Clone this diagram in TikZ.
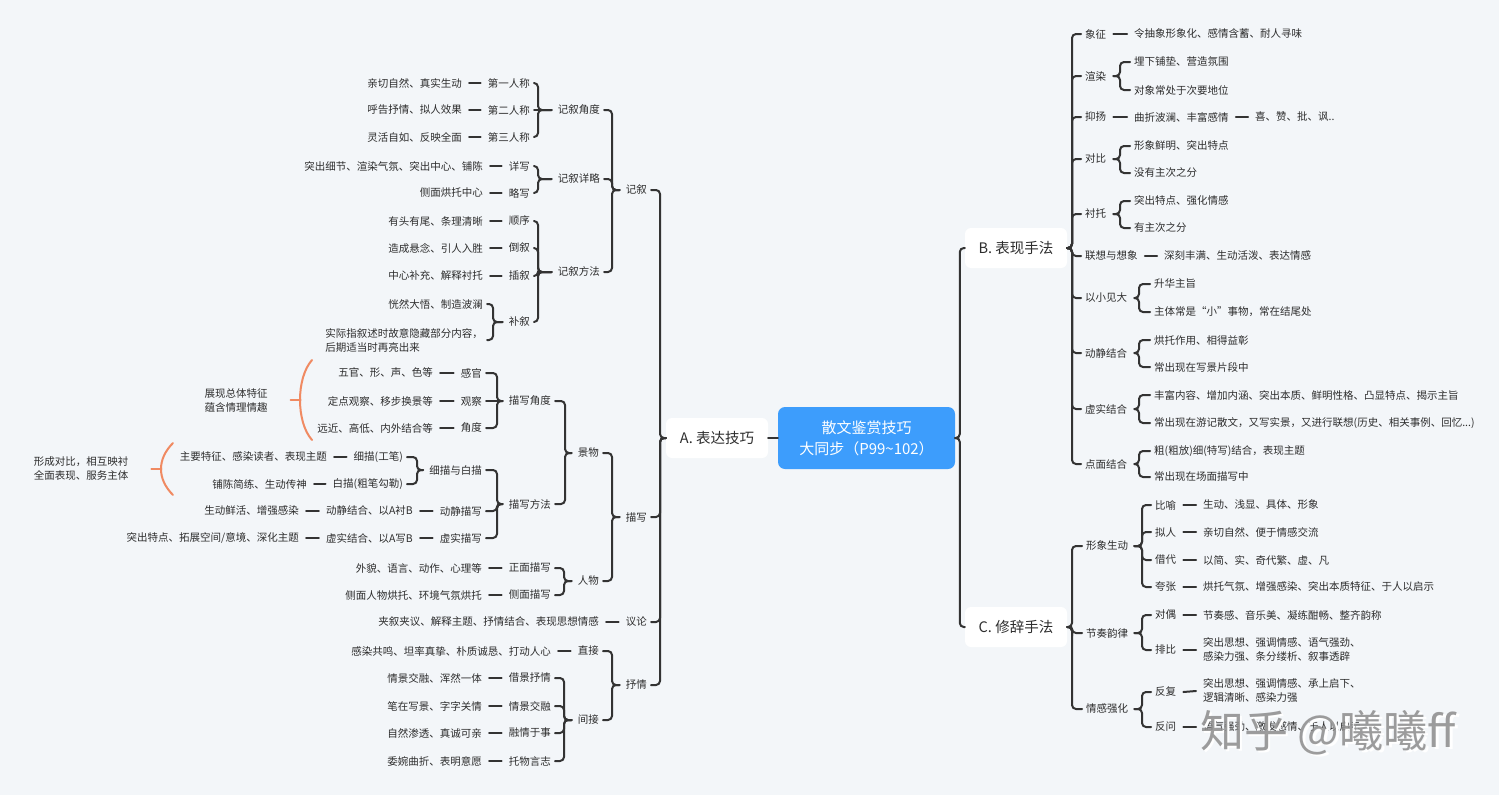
\documentclass[tikz,border=0pt]{standalone}
\usepackage{fontspec}
\setmainfont{Noto Sans CJK SC}
\definecolor{bg}{RGB}{243,246,249}
\definecolor{ink}{RGB}{51,51,51}
\definecolor{tx}{RGB}{45,45,45}
\definecolor{blu}{RGB}{61,157,252}
\definecolor{org}{RGB}{240,138,98}
\definecolor{wmc}{RGB}{140,140,140}
\tikzset{
  ln/.style={draw=ink, line width=2pt, rounded corners=4pt, line cap=round},
  orl/.style={draw=org, line width=2pt, line cap=round},
  t/.style={font=\fontsize{10.5}{14}\selectfont, text=tx, inner xsep=0pt, inner ysep=1pt},
  tl/.style={t, anchor=east},
  tr/.style={t, anchor=west},
  box/.style={fill=white, rounded corners=6pt, minimum width=102pt, minimum height=40pt, inner sep=0pt, text=tx, font=\fontsize{14.5}{16}\selectfont},
  wmk/.style={font=\fontsize{44}{44}\selectfont, inner sep=0pt}
}
\newcommand\mmLB[4]{\draw[ln] ([xshift=4pt]#1.east) -- ++(#3,0) |- ([xshift=-#4pt]#2.west);}
\newcommand\mmRB[4]{\draw[ln] ([xshift=-4pt]#1.west) -- ++(-#3,0) |- ([xshift=#4pt]#2.east);}
\newcommand\mmLS[2]{\draw[ln] ([xshift=4pt]#1.east) -- ([xshift=-6pt]#2.west);}
\newcommand\mmDL[2]{\draw[ln] ([xshift=7pt]#1.east) -- ([xshift=-7pt]#2.west);}
\begin{document}
\begin{tikzpicture}[x=1pt,y=-1pt]
\useasboundingbox (0,0) rectangle (1499,795);
\fill[bg] (0,0) rectangle (1499,795);

% ---------- centre ----------
\node[fill=blu, rounded corners=7pt, minimum width=177pt, minimum height=62pt, inner sep=0pt, text=white, font=\fontsize{15}{21}\selectfont, align=center] (root) at (866.5,438) {散文鉴赏技巧\\大同步（P99\textasciitilde102）};
\node[box] (A) at (717,438) {A. 表达技巧};
\node[box] (B) at (1016,248) {B. 表现手法};
\node[box] (C) at (1016,627) {C. 修辞手法};

% ---------- A side ----------
\node[tl] (jx) at (647,190) {记叙};
\node[tl] (mx) at (647,517) {描写};
\node[tl] (yl) at (647,622) {议论};
\node[tl] (sq) at (647,685) {抒情};

\node[tl] (jxjd) at (600,110) {记叙角度};
\node[tl] (jxxl) at (600,179) {记叙详略};
\node[tl] (jxff) at (600,272) {记叙方法};

\node[tl] (pa) at (530,83) {第一人称};
\node[tl] (pb2) at (530,110) {第二人称};
\node[tl] (pc) at (530,137) {第三人称};
\node[tl] (pan) at (462,83) {亲切自然、真实生动};
\node[tl] (pbn2) at (462,110) {呼告抒情、拟人效果};
\node[tl] (pcn) at (462,137) {灵活自如、反映全面};

\node[tl] (xiex) at (530,166) {详写};
\node[tl] (luex) at (530,193) {略写};
\node[tl] (xiexn) at (483,166) {突出细节、渲染气氛、突出中心、铺陈};
\node[tl] (luexn) at (483,193) {侧面烘托中心};

\node[tl] (shx) at (530,221) {顺序};
\node[tl] (daox) at (530,248) {倒叙};
\node[tl] (chax) at (530,276) {插叙};
\node[tl] (bux) at (530,322) {补叙};
\node[tl] (shxn) at (483,221) {有头有尾、条理清晰};
\node[tl] (daoxn) at (483,248) {造成悬念、引人入胜};
\node[tl] (chaxn) at (483,276) {中心补充、解释衬托};
\node[tl] (buxa) at (483,304) {恍然大悟、制造波澜};
\node[tl, align=left] (buxb) at (483,340) {实际指叙述时故意隐藏部分内容，\\后期适当时再亮出来};

\node[tl] (jw) at (599,453) {景物};
\node[tl] (rw) at (599,581) {人物};
\node[tl] (mxjd) at (551,401) {描写角度};
\node[tl] (mxff) at (551,504) {描写方法};
\node[tl] (gg) at (482,373) {感官};
\node[tl] (gc) at (482,401) {观察};
\node[tl] (jdu) at (482,428) {角度};
\node[tl] (ggn) at (433,373) {五官、形、声、色等};
\node[tl] (gcn) at (433,401) {定点观察、移步换景等};
\node[tl] (jdun) at (433,428) {远近、高低、内外结合等};

\node[tl] (xbm) at (482,470) {细描与白描};
\node[tl] (djms) at (482,511) {动静描写};
\node[tl] (xsms) at (482,538) {虚实描写};
\node[tl] (xim) at (403,457) {细描(工笔)};
\node[tl] (baim) at (403,484) {白描(粗笔勾勒)};
\node[tl] (ximn) at (327,457) {主要特征、感染读者、表现主题};
\node[tl] (baimn) at (307,484) {铺陈简练、生动传神};
\node[tl] (djjh) at (413,511) {动静结合、以A衬B};
\node[tl] (djn) at (299,511) {生动鲜活、增强感染};
\node[tl] (xsjh) at (413,538) {虚实结合、以A写B};
\node[tl] (xsn) at (299,538) {突出特点、拓展空间/意境、深化主题};

\node[tl] (zm) at (551,568) {正面描写};
\node[tl] (cm) at (551,595) {侧面描写};
\node[tl] (zmn) at (482,568) {外貌、语言、动作、心理等};
\node[tl] (cmn) at (482,595) {侧面人物烘托、环境气氛烘托};
\node[tl] (yln) at (599,622) {夹叙夹议、解释主题、抒情结合、表现思想情感};
\node[tl] (zj) at (599,651) {直接};
\node[tl] (jj) at (599,720) {间接};
\node[tl] (zjn) at (551,651) {感染共鸣、坦率真挚、朴质诚恳、打动人心};
\node[tl] (ja) at (551,678) {借景抒情};
\node[tl] (jb) at (551,706) {情景交融};
\node[tl] (jc) at (551,733) {融情于事};
\node[tl] (jd) at (551,761) {托物言志};
\node[tl] (jan) at (482,678) {情景交融、浑然一体};
\node[tl] (jbn) at (482,706) {笔在写景、字字关情};
\node[tl] (jcn) at (482,733) {自然渗透、真诚可亲};
\node[tl] (jdn) at (482,761) {委婉曲折、表明意愿};

\node[t, align=center] (noteA) at (236,400) {展现总体特征\\蕴含情理情趣};
\node[t, align=center] (noteB) at (81,469) {形成对比，相互映衬\\全面表现、服务主体};

% ---------- B side ----------
\node[tr] (xz) at (1085,34) {象征};
\node[tr] (xzn) at (1134,34) {令抽象形象化、感情含蓄、耐人寻味};
\node[tr] (xr) at (1085,76) {渲染};
\node[tr] (xra) at (1134,62) {埋下铺垫、营造氛围};
\node[tr] (xrb) at (1134,90) {对象常处于次要地位};
\node[tr] (yy) at (1085,117) {抑扬};
\node[tr] (yya) at (1134,117) {曲折波澜、丰富感情};
\node[tr] (yyb) at (1255,117) {喜、赞、批、讽..};
\node[tr] (db) at (1085,159) {对比};
\node[tr] (dba) at (1134,146) {形象鲜明、突出特点};
\node[tr] (dbb) at (1134,173) {没有主次之分};
\node[tr] (ct) at (1085,214) {衬托};
\node[tr] (cta) at (1134,201) {突出特点、强化情感};
\node[tr] (ctb) at (1134,228) {有主次之分};
\node[tr] (lxy) at (1085,256) {联想与想象};
\node[tr] (lxyn) at (1164,256) {深刻丰满、生动活泼、表达情感};
\node[tr] (yx) at (1085,298) {以小见大};
\node[tr] (yxa) at (1154,284) {升华主旨};
\node[tr] (yxb) at (1154,312) {主体常是“小”事物，常在结尾处};
\node[tr] (dj) at (1085,353) {动静结合};
\node[tr] (dja) at (1154,340) {烘托作用、相得益彰};
\node[tr] (djb) at (1154,367) {常出现在写景片段中};
\node[tr] (xs) at (1085,409) {虚实结合};
\node[tr] (xsa) at (1154,395) {丰富内容、增加内涵、突出本质、鲜明性格、凸显特点、揭示主旨};
\node[tr] (xsb) at (1154,423) {常出现在游记散文，又写实景，又进行联想(历史、相关事例、回忆...)};
\node[tr] (dm) at (1085,464) {点面结合};
\node[tr] (dma) at (1154,451) {粗(粗放)细(特写)结合，表现主题};
\node[tr] (dmb) at (1154,477) {常出现在场面描写中};

% ---------- C side ----------
\node[tr] (xxsd) at (1086,546) {形象生动};
\node[tr] (by) at (1155,505) {比喻};
\node[tr] (byn) at (1203,505) {生动、浅显、具体、形象};
\node[tr] (nr) at (1155,532) {拟人};
\node[tr] (nrn) at (1203,532) {亲切自然、便于情感交流};
\node[tr] (jdai) at (1155,560) {借代};
\node[tr] (jdain) at (1203,560) {以简、实、奇代繁、虚、凡};
\node[tr] (kz) at (1155,587) {夸张};
\node[tr] (kzn) at (1203,587) {烘托气氛、增强感染、突出本质特征、于人以启示};
\node[tr] (jzyl) at (1086,633) {节奏韵律};
\node[tr] (dui) at (1155,615) {对偶};
\node[tr] (duin) at (1203,615) {节奏感、音乐美、凝练酣畅、整齐韵称};
\node[tr] (paib) at (1155,650) {排比};
\node[tr, align=left] (paibn) at (1203,650) {突出思想、强调情感、语气强劲、\\感染力强、条分缕析、叙事透辟};
\node[tr] (qgqh) at (1086,709) {情感强化};
\node[tr] (ffu) at (1155,692) {反复};
\node[tr, align=left] (ffun) at (1203,691) {突出思想、强调情感、承上启下、\\逻辑清晰、感染力强};
\node[tr] (fw) at (1155,727) {反问};
\node[tr] (fwn) at (1203,727) {语气强劲、激发感情、于人以启示};

% ---------- connectors: centre ----------
\draw[ln] (A.east) -- (root.west);
\draw[ln] (B.west) -- ++(-5,0) |- (root.east);
\draw[ln] (C.west) -- ++(-5,0) |- (root.east);

% ---------- connectors: A ----------
\foreach \c in {jx,mx,yl,sq} {\mmLB{\c}{A}{9}{0}}
\foreach \c in {jxjd,jxxl,jxff} {\mmLB{\c}{jx}{8}{6}}
\foreach \c in {pa,pc} {\mmLB{\c}{jxjd}{4}{6}}
\mmLS{pb2}{jxjd}
\foreach \c in {xiex,luex} {\mmLB{\c}{jxxl}{4}{6}}
\foreach \c in {shx,daox,chax,bux} {\mmLB{\c}{jxff}{4}{6}}
\foreach \c in {buxa,buxb} {\mmLB{\c}{bux}{6}{6}}
\mmDL{pan}{pa} \mmDL{pbn2}{pb2} \mmDL{pcn}{pc}
\mmDL{xiexn}{xiex} \mmDL{luexn}{luex}
\mmDL{shxn}{shx} \mmDL{daoxn}{daox} \mmDL{chaxn}{chax}

\foreach \c in {jw,rw} {\mmLB{\c}{mx}{9}{6}}
\foreach \c in {mxjd,mxff} {\mmLB{\c}{jw}{10}{6}}
\foreach \c in {gg,jdu} {\mmLB{\c}{mxjd}{11}{6}}
\mmLS{gc}{mxjd}
\foreach \c in {xbm,djms,xsms} {\mmLB{\c}{mxff}{11}{6}}
\foreach \c in {xim,baim} {\mmLB{\c}{xbm}{10}{6}}
\mmDL{ggn}{gg} \mmDL{gcn}{gc} \mmDL{jdun}{jdu}
\mmDL{ximn}{xim} \mmDL{baimn}{baim}
\mmDL{djn}{djjh} \mmDL{djjh}{djms}
\mmDL{xsn}{xsjh} \mmDL{xsjh}{xsms}
\foreach \c in {zm,cm} {\mmLB{\c}{rw}{9}{6}}
\mmDL{zmn}{zm} \mmDL{cmn}{cm}
\mmDL{yln}{yl}
\foreach \c in {zj,jj} {\mmLB{\c}{sq}{9}{6}}
\mmDL{zjn}{zj}
\foreach \c in {ja,jb,jc,jd} {\mmLB{\c}{jj}{9}{6}}
\mmDL{jan}{ja} \mmDL{jbn}{jb} \mmDL{jcn}{jc} \mmDL{jdn}{jd}

% orange notes
\draw[orl] ([xshift=23pt]noteA.east) -- ++(10,0);
\draw[orl] (312,360) .. controls (296,378) and (296,422) .. (312,440);
\draw[orl] ([xshift=23pt]noteB.east) -- ++(10,0);
\draw[orl] (173,443) .. controls (157,459) and (157,479) .. (173,495);

% ---------- connectors: B ----------
\foreach \c in {xz,xr,yy,db,ct,lxy,yx,dj,xs,dm} {\mmRB{\c}{B}{9}{0}}
\foreach \c in {xra,xrb} {\mmRB{\c}{xr}{10}{7}}
\foreach \c in {dba,dbb} {\mmRB{\c}{db}{10}{7}}
\foreach \c in {cta,ctb} {\mmRB{\c}{ct}{10}{7}}
\foreach \c in {yxa,yxb} {\mmRB{\c}{yx}{11}{7}}
\foreach \c in {dja,djb} {\mmRB{\c}{dj}{11}{7}}
\foreach \c in {xsa,xsb} {\mmRB{\c}{xs}{11}{7}}
\foreach \c in {dma,dmb} {\mmRB{\c}{dm}{11}{7}}
\mmDL{xz}{xzn} \mmDL{yy}{yya} \mmDL{yya}{yyb} \mmDL{lxy}{lxyn}

% ---------- connectors: C ----------
\foreach \c in {xxsd,jzyl,qgqh} {\mmRB{\c}{C}{10}{0}}
\foreach \c in {by,nr,jdai,kz} {\mmRB{\c}{xxsd}{9}{6}}
\foreach \c in {dui,paib} {\mmRB{\c}{jzyl}{9}{6}}
\foreach \c in {ffu,fw} {\mmRB{\c}{qgqh}{9}{6}}
\mmDL{by}{byn} \mmDL{nr}{nrn} \mmDL{jdai}{jdain} \mmDL{kz}{kzn}
\mmDL{dui}{duin} \mmDL{paib}{paibn} \mmDL{ffu}{ffun} \mmDL{fw}{fwn}

% ---------- watermark (overlaps the text, as in the reference) ----------
\node[wmk, text=white] at (1330.5,734.5) {知乎 @曦曦ff};
\node[wmk, text=wmc, opacity=0.85] (wm) at (1328,733) {知乎 @曦曦ff};
\end{tikzpicture}
\end{document}
